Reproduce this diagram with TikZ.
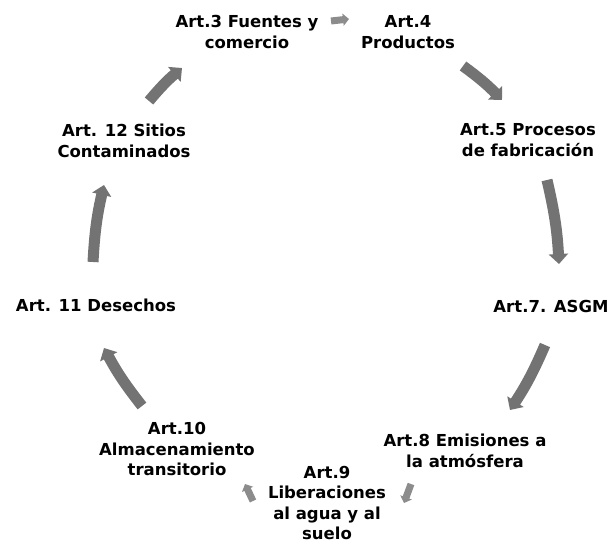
\documentclass[tikz,border=0pt]{standalone}
\usepackage{fontspec}
\setmainfont{DejaVu Sans}
\usetikzlibrary{arrows.meta}
\begin{document}
\begin{tikzpicture}[x=1pt,y=-1pt,
  lbl/.style={font=\bfseries\fontsize{16.5}{20.5}\selectfont, align=center, inner sep=0pt, text=black},
  flow/.style={line width=11pt, draw=black!55, -{Triangle[length=10pt,width=19pt]}},
  tinyflow/.style={line width=7pt, draw=black!45, -{Triangle[length=6pt,width=12pt]}}]
\useasboundingbox (0,0) rectangle (616,548);
\node[lbl] (a3) at (247,32) {Art.3 Fuentes y\\comercio};
\node[lbl] (a4) at (408,32) {Art.4\\Productos};
\node[lbl] (a5) at (528,140) {Art.5 Procesos\\de fabricación};
\node[lbl] (a7) at (551,306) {Art.7. ASGM};
\node[lbl] (a8) at (465,451) {Art.8 Emisiones a\\la atmósfera};
\node[lbl] (a9) at (327,503) {Art.9\\Liberaciones\\al agua y al\\suelo};
\node[lbl] (a10) at (177,449) {Art.10\\Almacenamiento\\transitorio};
\node[lbl] (a11) at (96,305) {Art. 11 Desechos};
\node[lbl] (a12) at (124,141) {Art. 12 Sitios\\Contaminados};
% arrow end points
\coordinate (s34) at (331,21);  \coordinate (e34) at (349,19);
\coordinate (s45) at (463,66);  \coordinate (e45) at (502,100);
\coordinate (s57) at (547,180); \coordinate (e57) at (559,264);
\coordinate (s78) at (545,345); \coordinate (e78) at (510,410);
\coordinate (s89) at (411,484); \coordinate (e89) at (404,503);
\coordinate (s910) at (253,501); \coordinate (e910) at (245,484);
\coordinate (s1011) at (142,406); \coordinate (e1011) at (104,348);
\coordinate (s1112) at (93,262); \coordinate (e1112) at (104,185);
\coordinate (s123) at (149,101); \coordinate (e123) at (182,68);
\draw[tinyflow] (s34) -- (e34);
\draw[flow] (s45) to[bend left=5] (e45);
\draw[flow] (s57) to[bend left=5] (e57);
\draw[flow] (s78) to[bend left=5] (e78);
\draw[tinyflow] (s89) -- (e89);
\draw[tinyflow] (s910) -- (e910);
\draw[flow] (s1011) to[bend left=5] (e1011);
\draw[flow] (s1112) to[bend left=5] (e1112);
\draw[flow] (s123) to[bend left=5] (e123);
\end{tikzpicture}
\end{document}
